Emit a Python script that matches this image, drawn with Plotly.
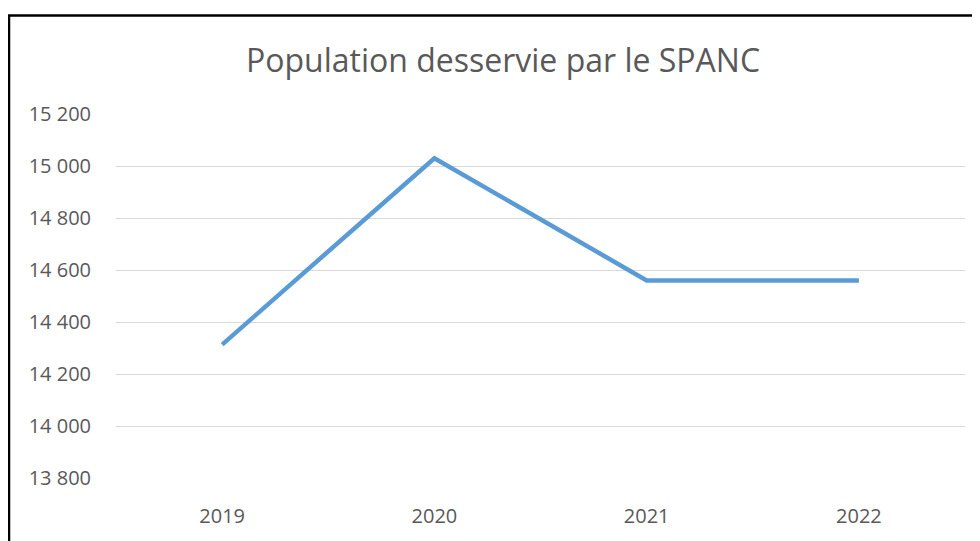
import plotly.graph_objects as go

years = ["2019", "2020", "2021", "2022"]
population = [14313, 15030, 14560, 14560]
y_ticks = [13800, 14000, 14200, 14400, 14600, 14800, 15000, 15200]

# page body has an 8px margin: build the figure in page pixels minus that offset
OFF = 8
W, H = 980 - OFF, 541 - OFF
L, R, T, B = 116 - OFF, 15, 114 - OFF, 57
pw, ph = W - L - R, H - T - B

def px_x(x):
    return (x - OFF - L) / pw

def px_y(y):
    return (H - B - (y - OFF)) / ph

FONT = "Open Sans, Lato, sans-serif"

fig = go.Figure()
fig.add_trace(go.Scatter(
    x=years, y=population, mode="lines",
    line=dict(color="#5B9BD5", width=4.5),
    hoverinfo="x+y",
))

fig.update_layout(
    width=W, height=H,
    margin=dict(l=L, r=R, t=T, b=B),
    paper_bgcolor="white", plot_bgcolor="white",
    separators=", ",
    showlegend=False,
    font=dict(family=FONT, color="#595959", size=20),
    title=dict(
        text="Population desservie par le SPANC",
        x=(503 - OFF) / W, xref="container", xanchor="center",
        y=1 - (61 - OFF) / H, yref="container", yanchor="middle",
        font=dict(size=32, color="#595959", family=FONT),
    ),
    xaxis=dict(
        type="category", range=[-0.5, 3.5],
        showgrid=False, zeroline=False, showline=False,
        ticks="outside", ticklen=20, tickcolor="rgba(0,0,0,0)",
        tickfont=dict(size=20, color="#595959"),
    ),
    yaxis=dict(
        range=[13800, 15200], tickvals=y_ticks, tickformat=",d",
        showgrid=True, gridcolor="#D9D9D9", gridwidth=1,
        zeroline=False, showline=False,
        ticks="outside", ticklen=20, tickcolor="rgba(0,0,0,0)",
        tickfont=dict(size=20, color="#595959"),
    ),
    shapes=[dict(
        type="rect", xref="paper", yref="paper",
        x0=px_x(9), x1=px_x(1000), y0=px_y(600), y1=px_y(14),
        line=dict(color="black", width=2.5), fillcolor="rgba(0,0,0,0)",
        layer="above",
    )],
)

fig.write_html("out.html")
